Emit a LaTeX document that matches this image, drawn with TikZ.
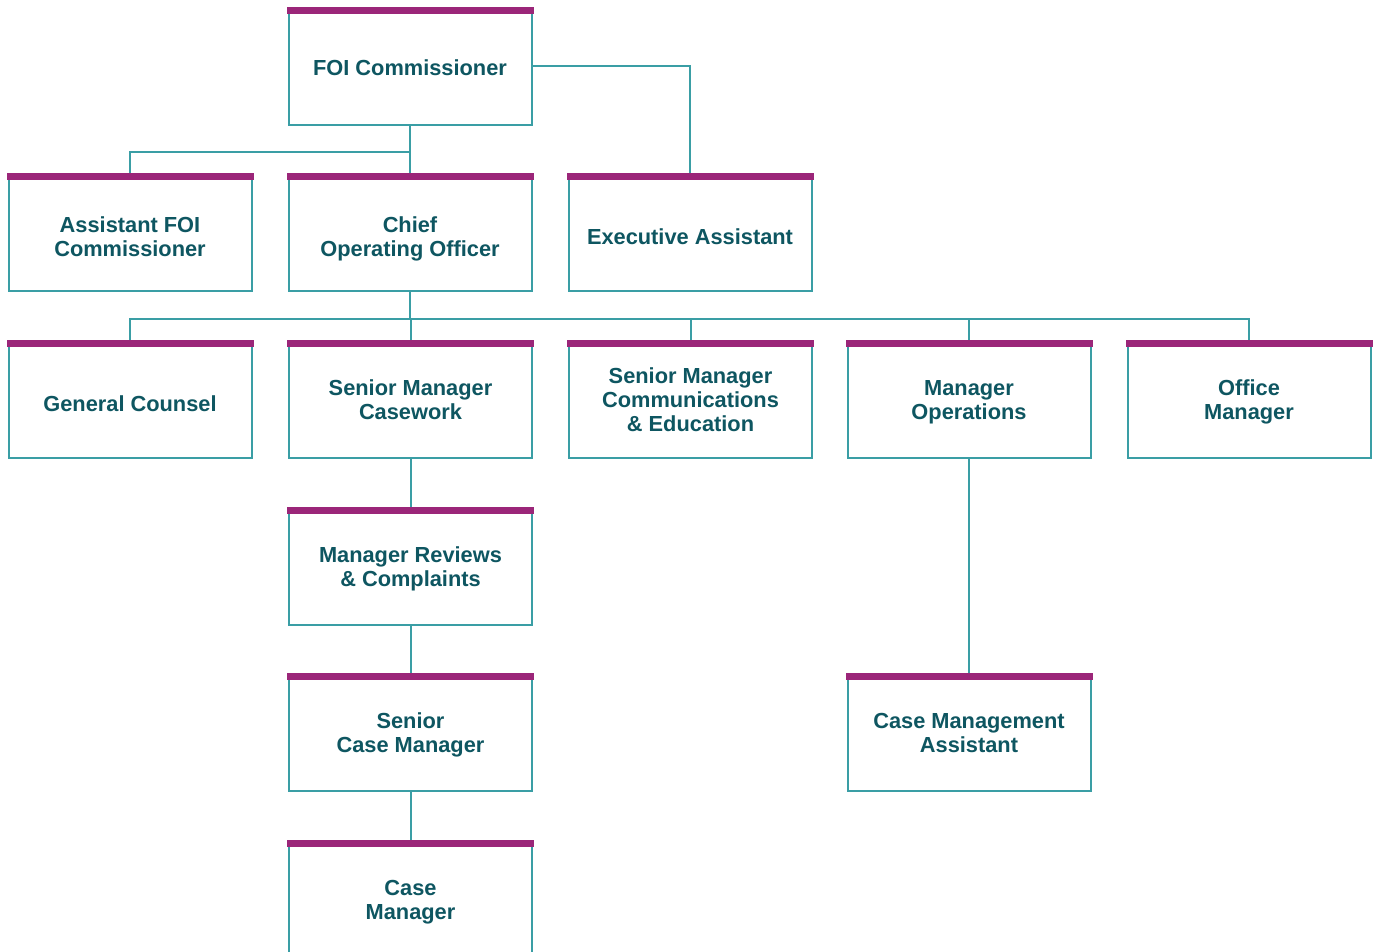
\documentclass[tikz,border=0pt]{standalone}
\usepackage{fontspec}
\setmainfont{Liberation Sans}
\definecolor{bar}{HTML}{9B2679}
\definecolor{edge}{HTML}{3A9EA5}
\definecolor{ink}{HTML}{0E5661}
\newcommand\orgtop[1][10.8pt]{\rule{0pt}{#1}}
\newcommand\orgbot{\rule[-3pt]{0pt}{3pt}}
\begin{document}
\begin{tikzpicture}[x=0.5pt,y=-0.5pt,
  orgbox/.style={draw=edge, line width=1pt, fill=white, minimum width=121.5pt, minimum height=58.5pt,
     inner sep=0pt, align=center, text=ink, font=\bfseries\fontsize{10.9}{12}\selectfont, anchor=north},
  link/.style={draw=edge, line width=1pt}]
\useasboundingbox (0,0) rectangle (1376,952);
\fill[white] (0,0) rectangle (1376,952);
% row 1
\node[orgbox] (foi) at (410,7) {\orgtop[12.3pt]FOI Commissioner\orgbot};
% row 2
\node[orgbox] (afc) at (130,173) {\orgtop[14.8pt]Assistant FOI\\Commissioner\orgbot};
\node[orgbox] (coo) at (410,173) {\orgtop[14.8pt]Chief\\Operating Officer\orgbot};
\node[orgbox] (ea) at (690,173) {\orgtop[14.8pt]Executive Assistant\orgbot};
% row 3
\node[orgbox] (gc) at (130,340) {\orgtop[14.8pt]General Counsel\orgbot};
\node[orgbox] (smc) at (410.5,340) {\orgtop Senior Manager\\Casework\orgbot};
\node[orgbox] (smce) at (690.5,340) {\orgtop Senior Manager\\Communications\\\& Education\orgbot};
\node[orgbox] (mo) at (969,340) {\orgtop Manager\\Operations\orgbot};
\node[orgbox] (om) at (1249,340) {\orgtop Office\\Manager\orgbot};
% column
\node[orgbox] (mrc) at (410.5,507) {\orgtop Manager Reviews\\\& Complaints\orgbot};
\node[orgbox] (scm) at (410.5,673) {\orgtop Senior\\Case Manager\orgbot};
\node[orgbox] (cm) at (410.5,840) {\orgtop Case\\Manager\orgbot};
\node[orgbox] (cma) at (969,673) {\orgtop Case Management\\Assistant\orgbot};
% connectors
\draw[link] (foi.south) -- ++(0,26) -| (afc.north);
\draw[link] (foi.south) -- (coo.north);
\draw[link] (foi.east) -| (ea.north);
\draw[link] (coo.south) -- ++(0,27) coordinate (bus);
\foreach \n in {gc,smc,smce,mo,om}{\draw[link] (bus) -| (\n.north);}
\draw[link] (smc.south) -- (mrc.north);
\draw[link] (mrc.south) -- (scm.north);
\draw[link] (scm.south) -- (cm.north);
\draw[link] (mo.south) -- (cma.north);
% purple bars
\foreach \n in {foi,afc,coo,ea,gc,smc,smce,mo,om,mrc,scm,cm,cma}{
  \fill[bar] ([xshift=-0.5pt]\n.north west) rectangle ([xshift=0.5pt,yshift=-3.6pt]\n.north east);}
\end{tikzpicture}
\end{document}
